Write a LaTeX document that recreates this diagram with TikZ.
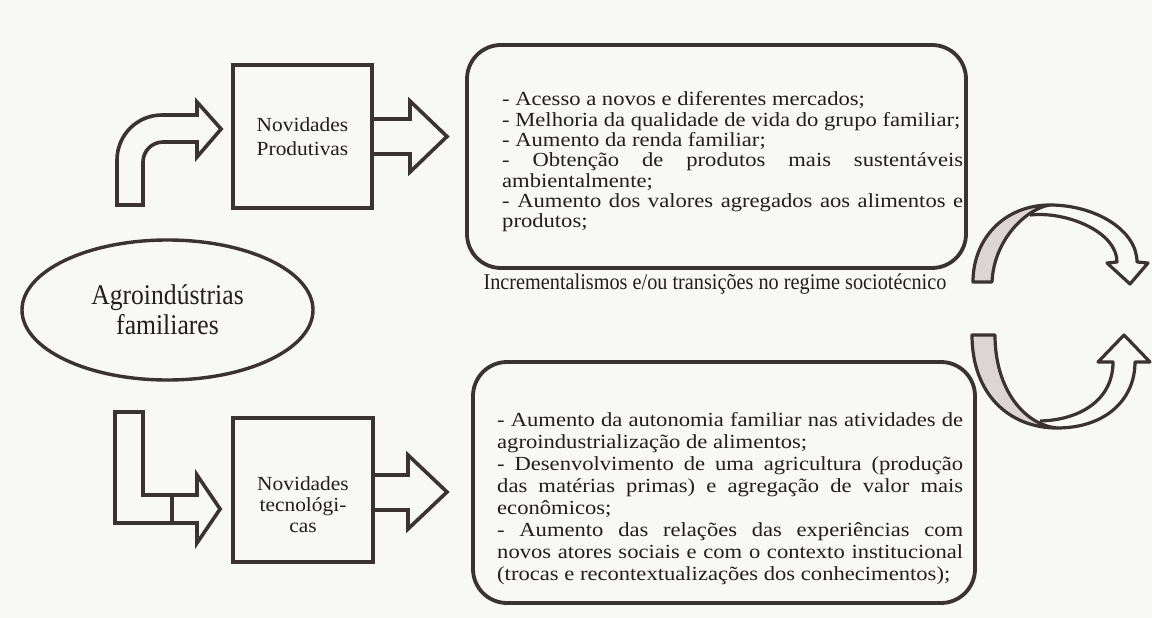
\documentclass[tikz,border=0pt]{standalone}
\usepackage{fontspec}
\setmainfont{Liberation Serif}
\newfontfamily\boxfont{Liberation Serif}[FakeStretch=1.13]
\newfontfamily\smallbox{Liberation Serif}[FakeStretch=1.07]
\newfontfamily\narrowfont{Liberation Serif}[FakeStretch=0.9]
\usetikzlibrary{shapes.geometric,calc}
\definecolor{ink}{HTML}{3A3331}
\definecolor{txt}{HTML}{221E1D}
\definecolor{shade}{HTML}{DDD5D5}
\definecolor{paper}{HTML}{F8F8F6}
\begin{document}
\begin{tikzpicture}[x=1pt,y=-1pt,
  rbox/.style={draw=ink,line width=3.8pt,rounded corners=34pt,inner sep=0pt},
  sqbox/.style={draw=ink,line width=3.8pt,inner sep=0pt,text=txt},
  barrow/.style={draw=ink,line width=3.6pt},
  carrow/.style={draw=ink,line width=3.2pt,line join=round},
  bodytext/.style={inner sep=0pt,anchor=base west,text=txt},
  ]
\fill[paper] (0,0) rectangle (1152,618);
\useasboundingbox (0,0) rectangle (1152,618);

% main ellipse
\node[ellipse, draw=ink, line width=3.4pt, minimum width=291pt, minimum height=140pt,
      inner sep=0pt, align=center, text=txt, font=\narrowfont\fontsize{28.5}{30}\selectfont]
      (agro) at (167.5,310) {Agroindústrias\\familiares};

% novelty boxes
\node[sqbox, minimum width=139pt, minimum height=143pt, align=center,
      font=\smallbox\fontsize{20}{24}\selectfont] (np) at (302.5,136.5) {Novidades\\Produtivas};
\node[sqbox, minimum width=140pt, minimum height=144pt] (nt) at (303,490) {};
\node[inner sep=0pt, align=center, text=txt, font=\smallbox\fontsize{20}{21}\selectfont]
      (nttext) at (303,505) {Novidades\\tecnológi-\\cas};

% result boxes
\node[rbox, minimum width=499pt, minimum height=223pt] (tbox) at (716.5,156.5) {};
\node[rbox, minimum width=502pt, minimum height=241pt] (bbox) at (724,482.5) {};

\node[bodytext] (ttext) at (502,106) {\parbox[t]{461pt}{\boxfont\fontsize{20}{20.3}\selectfont
- Acesso a novos e diferentes mercados;\newline
- Melhoria da qualidade de vida do grupo familiar;\newline
- Aumento da renda familiar;\newline
- Obtenção de produtos mais sustentáveis\linebreak
ambientalmente;\newline
- Aumento dos valores agregados aos alimentos e\linebreak
produtos;}};

\node[bodytext] (btext) at (497,426) {\parbox[t]{466pt}{\boxfont\fontsize{20}{22.1}\selectfont
- Aumento da autonomia familiar nas atividades de\linebreak
agroindustrialização de alimentos;\newline
- Desenvolvimento de uma agricultura (produção\linebreak
das matérias primas) e agregação de valor mais\linebreak
econômicos;\newline
- Aumento das relações das experiências com\linebreak
novos atores sociais e com o contexto institucional\linebreak
(trocas e recontextualizações dos conhecimentos);}};

% middle label
\node[inner sep=0pt, anchor=base, text=txt, font=\narrowfont\fontsize{22.5}{24}\selectfont]
      (label) at (715,289) {Incrementalismos e/ou transições no regime sociotécnico};

% bent arrow into Novidades Produtivas
\coordinate (bentfoot) at (130,205);
\draw[barrow] (117,205) -- (117,160) .. controls (117,135.1) and (137.1,115) .. (162,115)
  -- (197,115) -- (197,102) -- ([xshift=-10pt]np.west |- 0,129) -- (197,157) -- (197,142)
  -- (163,142) .. controls (152,142) and (143,151) .. (143,162) -- (143,205) -- cycle;

% L arrow into Novidades tecnologicas
\draw[barrow] (115,412) -- (143,412) -- (143,495) -- (197,495) -- (197,475)
  -- ([xshift=-11pt]nt.west |- 0,509) -- (197,543) -- (197,523) -- (115,523) -- cycle;
\draw[barrow] (172,495) -- (172,523);

% arrows out of the novelty boxes
\draw[barrow] ([yshift=17.5pt]np.east) -- (410,119) -- (410,101) -- (447,136.5)
  -- (410,172) -- (410,154) -- ([yshift=-17.5pt]np.east);
\draw[barrow] ([yshift=15pt]nt.east) -- (408,475) -- (408,455) -- (447,492)
  -- (408,529) -- (408,510) -- ([yshift=-20pt]nt.east);

% curved arrows on the right
\filldraw[fill=shade, carrow] (973,282) .. controls (973,238) and (1005,205) .. (1050,205)
  .. controls (1028,208) and (994,238) .. (992,282) -- cycle;
\draw[carrow] (1030,215) .. controls (1067,211) and (1117,232) .. (1117,262)
  -- (1107,263) -- (1130,284) -- (1148,263) -- (1137,262)
  .. controls (1137,230) and (1095,205) .. (1050,205);

\filldraw[fill=shade, carrow] (972,335) .. controls (972,395) and (1010,428) .. (1057,428)
  .. controls (1025,425) and (995,390) .. (995,335) -- cycle;
\draw[carrow] (1040,421) .. controls (1080,420) and (1113,400) .. (1113,362)
  -- (1098,362) -- (1124,335) -- (1150,362) -- (1135,362)
  .. controls (1135,400) and (1105,428) .. (1057,428);
\end{tikzpicture}
\end{document}
